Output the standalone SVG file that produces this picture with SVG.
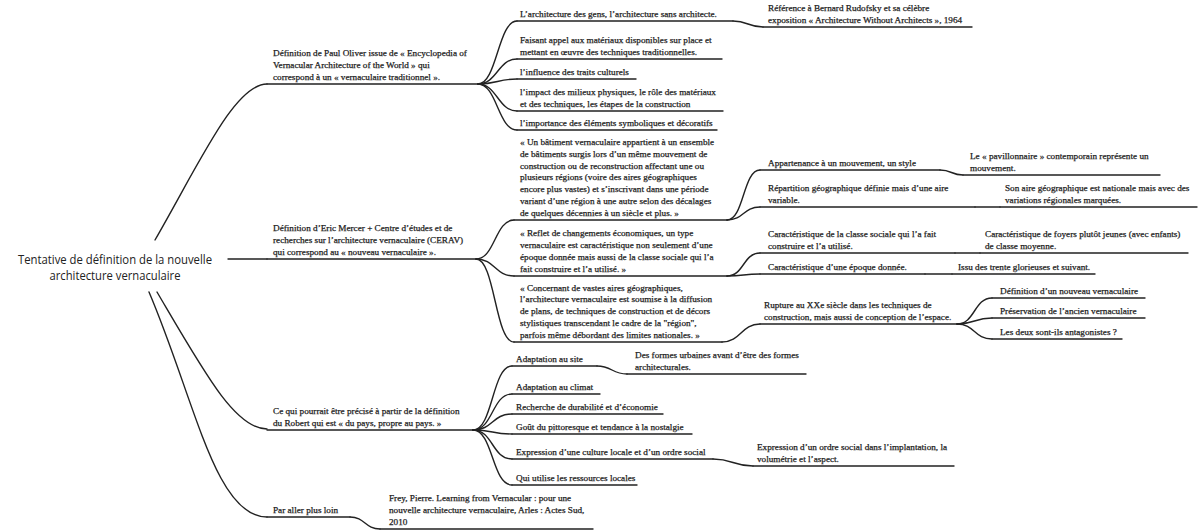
<svg xmlns="http://www.w3.org/2000/svg" width="1200" height="532" viewBox="0 0 1200 532">
<style>
.t{font-family:"Liberation Serif","Times New Roman",serif;font-size:9.2px;fill:#1c1c1c;stroke:#1c1c1c;stroke-width:0.25px}
.r{font-family:"Open Sans","Noto Sans",sans-serif;font-size:13px;fill:#222}
.u,.c{stroke:#222;stroke-width:1.4;fill:none;stroke-linecap:round}
</style>
<rect width="1200" height="532" fill="#fff"/>
<g id="connectors">
<path class="c" d="M155,240 C200,162 235,84 267,84"/>
<path class="c" d="M228,259 L267,259"/>
<path class="c" d="M157,292 C204,372 235,429 267,429"/>
<path class="c" d="M149,292 C195,400 215,517 267,517"/>
<path class="c" d="M478,84 C497,84 498,21 517,21"/>
<path class="c" d="M478,84 C497,84 498,59 517,59"/>
<path class="c" d="M478,84 C497,84 498,79 517,79"/>
<path class="c" d="M478,84 C497,84 498,111 517,111"/>
<path class="c" d="M478,84 C497,84 498,130 517,130"/>
<path class="c" d="M733,21 C748,21 748,27 763,27"/>
<path class="c" d="M476,259 C495,259 495,220 514,220"/>
<path class="c" d="M476,259 C495,259 495,276 514,276"/>
<path class="c" d="M476,259 C495,259 495,342 514,342"/>
<path class="c" d="M727,220 C744,220 743,170 760,170"/>
<path class="c" d="M727,220 C744,220 743,207 760,207"/>
<path class="c" d="M940,170 C952,170 951,175 963,175"/>
<path class="c" d="M975,207 L1000,207"/>
<path class="c" d="M727,276 C744,276 743,253 760,253"/>
<path class="c" d="M727,276 C744,276 743,274 760,274"/>
<path class="c" d="M955,253 L980,253"/>
<path class="c" d="M925,274 L952,274"/>
<path class="c" d="M722,342 C741,342 741,324 760,324"/>
<path class="c" d="M957,324 C975,324 974,298 992,298"/>
<path class="c" d="M957,324 C975,324 974,318 992,318"/>
<path class="c" d="M957,324 C975,324 974,339 992,339"/>
<path class="c" d="M473,430 C493,430 492,366 512,366"/>
<path class="c" d="M473,430 C493,430 492,394 512,394"/>
<path class="c" d="M473,430 C493,430 492,414 512,414"/>
<path class="c" d="M473,430 C493,430 492,434 512,434"/>
<path class="c" d="M473,430 C493,430 492,459 512,459"/>
<path class="c" d="M473,430 C493,430 492,485 512,485"/>
<path class="c" d="M597,366 C612,366 612,374 627,374"/>
<path class="c" d="M713,459 C733,459 733,466 753,466"/>
<path class="c" d="M350,517 C365,517 365,529 380,529"/>
</g>
<g id="root">
<text class="r" x="115" y="264" text-anchor="middle" textLength="194" lengthAdjust="spacingAndGlyphs">Tentative de définition de la nouvelle</text>
<text class="r" x="115" y="280" text-anchor="middle" textLength="131" lengthAdjust="spacingAndGlyphs">architecture vernaculaire</text>
</g>
<g id="oliver">
<text class="t" x="273" y="56.1"><tspan>Définition de Paul Oliver issue de « Encyclopedia of</tspan><tspan x="273" dy="11.7">Vernacular Architecture of the World » qui</tspan><tspan x="273" dy="11.7">correspond à un « vernaculaire traditionnel ».</tspan></text>
<line class="u" x1="267" y1="84" x2="478" y2="84"/>
</g>
<g id="oliver-1">
<text class="t" x="520" y="16.5">L’architecture des gens, l’architecture sans architecte.</text>
<line class="u" x1="517" y1="21" x2="733" y2="21"/>
</g>
<g id="rudofsky">
<text class="t" x="768" y="10.8"><tspan>Référence à Bernard Rudofsky et sa célèbre</tspan><tspan x="768" dy="11.7">exposition « Architecture Without Architects », 1964</tspan></text>
<line class="u" x1="763" y1="27" x2="972" y2="27"/>
</g>
<g id="oliver-2">
<text class="t" x="520" y="42.8"><tspan>Faisant appel aux matériaux disponibles sur place et</tspan><tspan x="520" dy="11.7">mettant en œuvre des techniques traditionnelles.</tspan></text>
<line class="u" x1="517" y1="59" x2="722" y2="59"/>
</g>
<g id="oliver-3">
<text class="t" x="520" y="74.5">l’influence des traits culturels</text>
<line class="u" x1="517" y1="79" x2="636" y2="79"/>
</g>
<g id="oliver-4">
<text class="t" x="520" y="94.8"><tspan>l’impact des milieux physiques, le rôle des matériaux</tspan><tspan x="520" dy="11.7">et des techniques, les étapes de la construction</tspan></text>
<line class="u" x1="517" y1="111" x2="723" y2="111"/>
</g>
<g id="oliver-5">
<text class="t" x="520" y="125.5">l’importance des éléments symboliques et décoratifs</text>
<line class="u" x1="517" y1="130" x2="717" y2="130"/>
</g>
<g id="mercer">
<text class="t" x="273" y="231.1"><tspan>Définition d’Eric Mercer + Centre d’études et de</tspan><tspan x="273" dy="11.7">recherches sur l’architecture vernaculaire (CERAV)</tspan><tspan x="273" dy="11.7">qui correspond au « nouveau vernaculaire ».</tspan></text>
<line class="u" x1="267" y1="259" x2="476" y2="259"/>
</g>
<g id="mercer-1">
<text class="t" x="520" y="145.3"><tspan>« Un bâtiment vernaculaire appartient à un ensemble</tspan><tspan x="520" dy="11.7">de bâtiments surgis lors d’un même mouvement de</tspan><tspan x="520" dy="11.7">construction ou de reconstruction affectant une ou</tspan><tspan x="520" dy="11.7">plusieurs régions (voire des aires géographiques</tspan><tspan x="520" dy="11.7">encore plus vastes) et s’inscrivant dans une période</tspan><tspan x="520" dy="11.7">variant d’une région à une autre selon des décalages</tspan><tspan x="520" dy="11.7">de quelques décennies à un siècle et plus. »</tspan></text>
<line class="u" x1="514" y1="220" x2="727" y2="220"/>
</g>
<g id="mercer-2">
<text class="t" x="520" y="236.4"><tspan>« Reflet de changements économiques, un type</tspan><tspan x="520" dy="11.7">vernaculaire est caractéristique non seulement d’une</tspan><tspan x="520" dy="11.7">époque donnée mais aussi de la classe sociale qui l’a</tspan><tspan x="520" dy="11.7">fait construire et l’a utilisé. »</tspan></text>
<line class="u" x1="514" y1="276" x2="727" y2="276"/>
</g>
<g id="mercer-3">
<text class="t" x="520" y="290.7"><tspan>« Concernant de vastes aires géographiques,</tspan><tspan x="520" dy="11.7">l’architecture vernaculaire est soumise à la diffusion</tspan><tspan x="520" dy="11.7">de plans, de techniques de construction et de décors</tspan><tspan x="520" dy="11.7">stylistiques transcendant le cadre de la "région",</tspan><tspan x="520" dy="11.7">parfois même débordant des limites nationales. »</tspan></text>
<line class="u" x1="514" y1="342" x2="722" y2="342"/>
</g>
<g id="appartenance">
<text class="t" x="768" y="165.5">Appartenance à un mouvement, un style</text>
<line class="u" x1="760" y1="170" x2="940" y2="170"/>
</g>
<g id="pavillonnaire">
<text class="t" x="970" y="158.8"><tspan>Le « pavillonnaire » contemporain représente un</tspan><tspan x="970" dy="11.7">mouvement.</tspan></text>
<line class="u" x1="963" y1="175" x2="1160" y2="175"/>
</g>
<g id="repartition">
<text class="t" x="768" y="190.8"><tspan>Répartition géographique définie mais d’une aire</tspan><tspan x="768" dy="11.7">variable.</tspan></text>
<line class="u" x1="760" y1="207" x2="975" y2="207"/>
</g>
<g id="aire-nationale">
<text class="t" x="1005" y="190.8"><tspan>Son aire géographique est nationale mais avec des</tspan><tspan x="1005" dy="11.7">variations régionales marquées.</tspan></text>
<line class="u" x1="1000" y1="207" x2="1197" y2="207"/>
</g>
<g id="classe-sociale">
<text class="t" x="768" y="236.8"><tspan>Caractéristique de la classe sociale qui l’a fait</tspan><tspan x="768" dy="11.7">construire et l’a utilisé.</tspan></text>
<line class="u" x1="760" y1="253" x2="955" y2="253"/>
</g>
<g id="foyers">
<text class="t" x="985" y="236.8"><tspan>Caractéristique de foyers plutôt jeunes (avec enfants)</tspan><tspan x="985" dy="11.7">de classe moyenne.</tspan></text>
<line class="u" x1="980" y1="253" x2="1188" y2="253"/>
</g>
<g id="epoque">
<text class="t" x="768" y="269.5">Caractéristique d’une époque donnée.</text>
<line class="u" x1="760" y1="274" x2="925" y2="274"/>
</g>
<g id="trente-glorieuses">
<text class="t" x="958" y="269.5">Issu des trente glorieuses et suivant.</text>
<line class="u" x1="952" y1="274" x2="1095" y2="274"/>
</g>
<g id="rupture">
<text class="t" x="764" y="307.8"><tspan>Rupture au XXe siècle dans les techniques de</tspan><tspan x="764" dy="11.7">construction, mais aussi de conception de l’espace.</tspan></text>
<line class="u" x1="760" y1="324" x2="957" y2="324"/>
</g>
<g id="nouveau-vernaculaire">
<text class="t" x="1000" y="293.5">Définition d’un nouveau vernaculaire</text>
<line class="u" x1="992" y1="298" x2="1145" y2="298"/>
</g>
<g id="ancien-vernaculaire">
<text class="t" x="1000" y="313.5">Préservation de l’ancien vernaculaire</text>
<line class="u" x1="992" y1="318" x2="1145" y2="318"/>
</g>
<g id="antagonistes">
<text class="t" x="1000" y="334.5">Les deux sont-ils antagonistes ?</text>
<line class="u" x1="992" y1="339" x2="1122" y2="339"/>
</g>
<g id="robert">
<text class="t" x="273" y="413.8"><tspan>Ce qui pourrait être précisé à partir de la définition</tspan><tspan x="273" dy="11.7">du Robert qui est « du pays, propre au pays. »</tspan></text>
<line class="u" x1="267" y1="430" x2="473" y2="430"/>
</g>
<g id="site">
<text class="t" x="516" y="361.5">Adaptation au site</text>
<line class="u" x1="512" y1="366" x2="597" y2="366"/>
</g>
<g id="formes-urbaines">
<text class="t" x="635" y="357.8"><tspan>Des formes urbaines avant d’être des formes</tspan><tspan x="635" dy="11.7">architecturales.</tspan></text>
<line class="u" x1="627" y1="374" x2="806" y2="374"/>
</g>
<g id="climat">
<text class="t" x="516" y="389.5">Adaptation au climat</text>
<line class="u" x1="512" y1="394" x2="600" y2="394"/>
</g>
<g id="durabilite">
<text class="t" x="516" y="409.5">Recherche de durabilité et d’économie</text>
<line class="u" x1="512" y1="414" x2="663" y2="414"/>
</g>
<g id="pittoresque">
<text class="t" x="516" y="429.5">Goût du pittoresque et tendance à la nostalgie</text>
<line class="u" x1="512" y1="434" x2="692" y2="434"/>
</g>
<g id="culture-locale">
<text class="t" x="516" y="454.5">Expression d’une culture locale et d’un ordre social</text>
<line class="u" x1="512" y1="459" x2="713" y2="459"/>
</g>
<g id="ordre-social">
<text class="t" x="757" y="449.8"><tspan>Expression d’un ordre social dans l’implantation, la</tspan><tspan x="757" dy="11.7">volumétrie et l’aspect.</tspan></text>
<line class="u" x1="753" y1="466" x2="954" y2="466"/>
</g>
<g id="ressources">
<text class="t" x="516" y="480.5">Qui utilise les ressources locales</text>
<line class="u" x1="512" y1="485" x2="637" y2="485"/>
</g>
<g id="plus-loin">
<text class="t" x="273" y="512.5">Par aller plus loin</text>
<line class="u" x1="267" y1="517" x2="350" y2="517"/>
</g>
<g id="frey">
<text class="t" x="389" y="501.1"><tspan>Frey, Pierre. Learning from Vernacular : pour une</tspan><tspan x="389" dy="11.7">nouvelle architecture vernaculaire, Arles : Actes Sud,</tspan><tspan x="389" dy="11.7">2010</tspan></text>
<line class="u" x1="380" y1="529" x2="593" y2="529"/>
</g>
</svg>
